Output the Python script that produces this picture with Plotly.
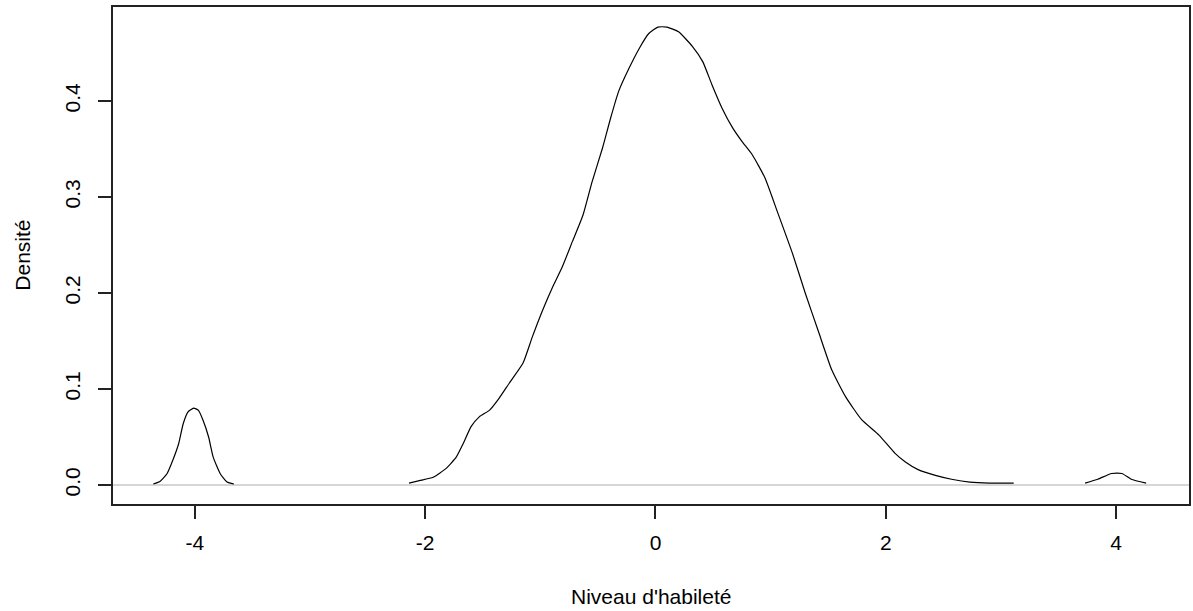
# Courbe de densite du niveau d'habilete (style R base)
import plotly.graph_objects as go

# valeurs, None = coupure entre segments
niveau = [-4.36, -4.30, -4.24, -4.19, -4.14, -4.10, -4.06, -4.01, -3.97, -3.93, -3.88, -3.84, -3.78, -3.72, -3.66,
          None,
          -2.14, -2.05, -1.93, -1.82, -1.73, -1.67, -1.60, -1.53, -1.44, -1.36, -1.27, -1.15, -1.07, -0.98, -0.89,
          -0.81, -0.72, -0.63, -0.55, -0.46, -0.39, -0.32, -0.23, -0.14, -0.06, 0.02, 0.10, 0.20, 0.32, 0.41,
          0.49, 0.58, 0.67, 0.75, 0.84, 0.95, 1.06, 1.19, 1.30, 1.42, 1.53, 1.65, 1.79, 1.94, 2.08, 2.17,
          2.28, 2.43, 2.57, 2.73, 2.90, 3.11,
          None,
          3.73, 3.84, 3.96, 4.05, 4.13, 4.26]
densite = [0.001, 0.004, 0.012, 0.026, 0.043, 0.064, 0.076, 0.080, 0.078, 0.068, 0.050, 0.029, 0.012, 0.003, 0.001,
           None,
           0.002, 0.0045, 0.008, 0.017, 0.029, 0.043, 0.061, 0.071, 0.078, 0.090, 0.106, 0.127, 0.154, 0.182, 0.207,
           0.227, 0.254, 0.281, 0.316, 0.351, 0.382, 0.410, 0.434, 0.455, 0.470, 0.477, 0.477, 0.472, 0.457, 0.441,
           0.417, 0.392, 0.372, 0.358, 0.344, 0.320, 0.284, 0.241, 0.200, 0.158, 0.120, 0.092, 0.068, 0.052, 0.033, 0.024,
           0.016, 0.010, 0.006, 0.003, 0.002, 0.002,
           None,
           0.002, 0.006, 0.012, 0.012, 0.006, 0.002]

x_ticks = [-4, -2, 0, 2, 4]
y_ticks = [0.0, 0.1, 0.2, 0.3, 0.4]
y_labels = ["0.0", "0.1", "0.2", "0.3", "0.4"]

police = dict(family="Liberation Sans, Arial, sans-serif", size=21, color="#000000")

fig = go.Figure()

fig.add_trace(go.Scatter(
    x=niveau, y=densite, mode="lines", connectgaps=False,
    line=dict(color="#000000", width=1.2, shape="spline", smoothing=0.5),
    showlegend=False, hoverinfo="skip",
))

# abline(h=0, col="gray")
fig.add_shape(type="line", xref="paper", yref="y", x0=0, x1=1, y0=0, y1=0,
              line=dict(color="#c8c8c8", width=1.5), layer="below")

fig.update_layout(
    width=1193, height=611,
    paper_bgcolor="white", plot_bgcolor="white",
    margin=dict(l=113, r=2, t=7, b=107),
    font=police,
    annotations=[
        dict(text="Niveau d'habileté", xref="paper", yref="paper", x=0.5, y=-0.187,
             xanchor="center", yanchor="middle", showarrow=False, font=police),
        dict(text="Densité", xref="paper", yref="paper", x=-0.0844, y=0.5,
             xanchor="center", yanchor="middle", textangle=-90, showarrow=False, font=police),
    ],
)
fig.update_xaxes(
    range=[-4.71, 4.632], tickvals=x_ticks, ticktext=[str(v) for v in x_ticks],
    showgrid=False, zeroline=False,
    showline=True, linecolor="#222222", linewidth=1.5, mirror=True,
    ticks="outside", ticklen=13, tickcolor="#222222", tickwidth=1.5,
    ticklabelstandoff=6, tickfont=police,
)
fig.update_yaxes(
    range=[-0.0198, 0.4979], tickvals=y_ticks, ticktext=y_labels, tickangle=-90,
    showgrid=False, zeroline=False,
    showline=True, linecolor="#222222", linewidth=1.5, mirror=True,
    ticks="outside", ticklen=13, tickcolor="#222222", tickwidth=1.5,
    ticklabelstandoff=10, tickfont=police,
)

# pas de marge de page autour du graphique, pas de barre d'outils
fig.write_html("out.html", config={"displayModeBar": False},
               post_script="document.body.style.margin='0';")
